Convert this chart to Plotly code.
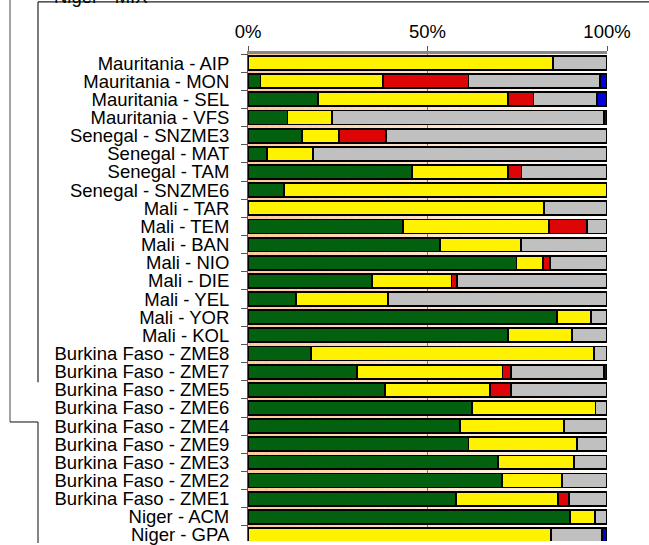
import plotly.graph_objects as go

# Sites, top to bottom
sites = [
    "Mauritania - AIP", "Mauritania - MON", "Mauritania - SEL", "Mauritania - VFS",
    "Senegal - SNZME3", "Senegal - MAT", "Senegal - TAM", "Senegal - SNZME6",
    "Mali - TAR", "Mali - TEM", "Mali - BAN", "Mali - NIO", "Mali - DIE",
    "Mali - YEL", "Mali - YOR", "Mali - KOL",
    "Burkina Faso - ZME8", "Burkina Faso - ZME7", "Burkina Faso - ZME5",
    "Burkina Faso - ZME6", "Burkina Faso - ZME4", "Burkina Faso - ZME9",
    "Burkina Faso - ZME3", "Burkina Faso - ZME2", "Burkina Faso - ZME1",
    "Niger - ACM", "Niger - GPA",
]

# Share of each class per site (%)
green = [0, 3.5, 19.6, 11.0, 15.0, 5.2, 45.6, 10.1, 0, 43.1, 53.5, 74.8, 34.6,
         13.3, 86.0, 72.5, 17.5, 30.3, 38.2, 62.5, 59.1, 61.4, 69.7, 70.7, 57.9,
         89.7, 0]
yellow = [85.0, 34.2, 52.9, 12.3, 10.4, 12.8, 26.9, 89.9, 82.5, 40.8, 22.5, 7.3,
          22.1, 25.6, 9.5, 17.7, 78.9, 40.6, 29.2, 34.3, 28.9, 30.3, 21.2, 16.7,
          28.5, 7.0, 84.3]
red = [0, 23.7, 7.0, 0, 13.0, 0, 3.7, 0, 0, 10.6, 0, 2.0, 1.6, 0, 0, 0, 0, 2.3,
       5.8, 0, 0, 0, 0, 0, 3.0, 0, 0]
grey = [15.0, 36.7, 17.8, 75.9, 61.6, 82.0, 23.8, 0, 17.5, 5.5, 24.0, 15.9, 41.7,
        61.1, 4.5, 9.8, 3.6, 26.0, 26.8, 3.2, 12.0, 8.3, 9.1, 12.6, 10.6, 3.3, 14.4]
blue = [0, 1.9, 2.7, 0.8, 0, 0, 0, 0, 0, 0, 0, 0, 0, 0, 0, 0, 0, 0.8, 0, 0, 0, 0,
        0, 0, 0, 0, 1.3]

x_ticks = [0, 50, 100]
x_tick_text = ["0%", "50%", "100%"]

series = [
    (green, "#03600F"),
    (yellow, "#FFF200"),
    (red, "#DD0505"),
    (grey, "#C0C0C0"),
    (blue, "#0000D8"),
]

W, H = 649, 545
ML, MR, MT, MB = 248, 42, 54, 0
PW, PH = W - ML - MR, H - MT - MB
ROW = 18.3
FONT = 18.5


def px_x(x):
    return (x - ML) / PW


def px_y(y):
    return 1 - (y - MT) / PH


fig = go.Figure()
for vals, col in series:
    fig.add_trace(go.Bar(
        y=sites, x=vals, orientation="h",
        marker=dict(color=col, line=dict(color="#000000", width=1.8)),
        showlegend=False,
    ))

shapes = []
# peach-to-white horizontal gradient behind the bars
steps = 50
for i in range(steps):
    t = (i + 0.5) / steps
    r, g, b = 255, int(200 + 55 * t), int(150 + 105 * t)
    shapes.append(dict(
        type="rect", xref="x", yref="paper",
        x0=100 * i / steps, x1=100 * (i + 1) / steps, y0=0, y1=1,
        fillcolor=f"rgb({r},{g},{b})", line=dict(width=0), layer="below",
    ))

# surrounding frame lines
frame = [
    (10, -2, 10, 425, "#666666"),
    (10, 425, 38, 425, "#333333"),
    (38, 425, 38, 547, "#333333"),
    (38, 1.5, 38, 385, "#222222"),
    (38, 1.5, 651, 1.5, "#222222"),
]
for x0, y0, x1, y1, c in frame:
    shapes.append(dict(
        type="line", xref="paper", yref="paper",
        x0=px_x(x0), y0=px_y(y0), x1=px_x(x1), y1=px_y(y1),
        line=dict(color=c, width=1.2),
    ))

fig.update_layout(
    width=W, height=H,
    margin=dict(l=ML, r=MR, t=MT, b=MB, pad=0),
    barmode="stack", bargap=0.23,
    paper_bgcolor="white", plot_bgcolor="white",
    font=dict(family="Liberation Sans, Arial, sans-serif", size=FONT, color="#000000"),
    shapes=shapes,
    annotations=[dict(
        text="Niger - MIX", xref="paper", yref="paper",
        x=px_x(150), y=px_y(-4), xanchor="right", yanchor="middle",
        showarrow=False, font=dict(size=FONT, color="#000000"),
    )],
)

fig.update_xaxes(
    side="top", range=[0, 100], tickvals=x_ticks, ticktext=x_tick_text,
    showgrid=True, gridcolor="#777777", gridwidth=1,
    showline=True, linecolor="#888888", linewidth=3,
    ticks="outside", ticklen=5, tickcolor="#555555",
    ticklabelstandoff=1, zeroline=False, fixedrange=True,
)
n_rows = PH / ROW
fig.update_yaxes(
    type="category", categoryorder="array", categoryarray=sites,
    range=[-0.5 + n_rows, -0.5], tickmode="linear", dtick=1, tick0=0,
    showline=True, linecolor="#555555", linewidth=1,
    ticks="outside", ticklen=6, tickcolor="#555555", tickson="boundaries",
    ticklabelstandoff=14, showgrid=False, fixedrange=True,
)

fig.write_html("out.html")
